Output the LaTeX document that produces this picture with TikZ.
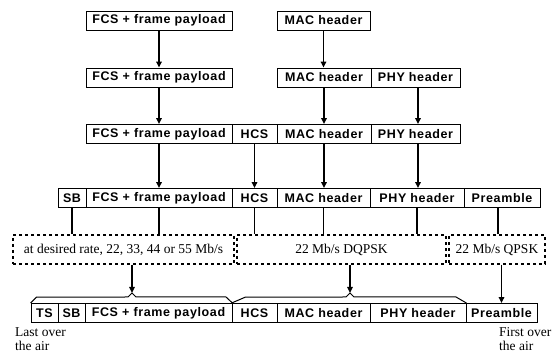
\documentclass[tikz,border=0pt]{standalone}
\usepackage{fontspec}
\setmainfont{Liberation Serif}
\newfontfamily\boxfont[LetterSpace=5]{Liberation Sans}
\usetikzlibrary{arrows.meta}
\begin{document}
\begin{tikzpicture}[x=1pt,y=-1pt,
  cell/.style={draw,line width=0.9pt,inner sep=0pt,minimum height=19pt,
    font=\boxfont\bfseries\fontsize{12.5}{14}\selectfont},
  dbox/.style={draw,dashed,dash pattern=on 3pt off 3pt,line width=1.3pt,inner sep=0pt,minimum height=29pt,
    font=\fontsize{13.5}{15}\selectfont},
  arr/.style={line width=1.5pt,-{Triangle[length=6pt,width=5.5pt]}},
  tie/.style={line width=1.4pt},
  brace/.style={line width=1pt},
  note/.style={align=left,anchor=north west,inner sep=0pt,font=\fontsize{13.5}{14.5}\selectfont}]
\useasboundingbox (0,0) rectangle (558,358);
% row 1
\node[cell,minimum width=146pt] (f1) at (159,20.5) {FCS + frame payload};
\node[cell,minimum width=93pt] (m1) at (323.5,20.5) {MAC header};
% row 2
\node[cell,minimum width=146pt] (f2) at (159,77.5) {FCS + frame payload};
\node[cell,minimum width=94pt] (m2) at (324,77.5) {MAC header};
\node[cell,minimum width=89pt] (p2) at (415.5,77.5) {PHY header};
% row 3
\node[cell,minimum width=146pt] (f3) at (159,134) {FCS + frame payload};
\node[cell,minimum width=45pt] (h3) at (254.5,134) {HCS};
\node[cell,minimum width=94pt] (m3) at (324,134) {MAC header};
\node[cell,minimum width=89pt] (p3) at (415.5,134) {PHY header};
% row 4
\node[cell,minimum width=28pt] (s4) at (72,198) {SB};
\node[cell,minimum width=146pt] (f4) at (159,198) {FCS + frame payload};
\node[cell,minimum width=45pt] (h4) at (254.5,198) {HCS};
\node[cell,minimum width=93pt] (m4) at (323.5,198) {MAC header};
\node[cell,minimum width=94pt] (p4) at (417,198) {PHY header};
\node[cell,minimum width=76pt] (r4) at (502,198) {Preamble};
% dashed row
\node[dbox,minimum width=221pt] (d1) at (123.5,249.5) {at desired rate, 22, 33, 44 or 55 Mb/s};
\node[dbox,minimum width=209pt] (d2) at (341.5,249.5) {22 Mb/s DQPSK};
\node[dbox,minimum width=96pt] (d3) at (497,249.5) {22 Mb/s QPSK};
% row 6
\node[cell,minimum width=27pt] (t6) at (44.5,313) {TS};
\node[cell,minimum width=27pt] (s6) at (71.5,313) {SB};
\node[cell,minimum width=147pt] (f6) at (158.5,313) {FCS + frame payload};
\node[cell,minimum width=45pt] (h6) at (254.5,313) {HCS};
\node[cell,minimum width=93pt] (m6) at (323.5,313) {MAC header};
\node[cell,minimum width=96pt] (p6) at (418,313) {PHY header};
\node[cell,minimum width=71pt] (r6) at (501.5,313) {Preamble};
% notes
\node[note] (last) at (15,327) {Last over\\the air};
\node[note] (first) at (499,327) {First over\\the air};
% arrows row1->2
\draw[arr] (f1.south) -- (f2.north);
\draw[arr] (m1.south) -- (m1.south |- m2.north);
% row2->3
\draw[arr] (f2.south) -- (f3.north);
\draw[arr] (m2.south) -- (m2.south |- m3.north);
\draw[arr] ([xshift=2.5pt]p2.south) -- ([xshift=2.5pt]p2.south |- p3.north);
% row3->4
\draw[arr] (f3.south) -- (f4.north);
\draw[arr] (h3.south) -- (h4.north);
\draw[arr] (m3.south) -- (m3.south |- m4.north);
\draw[arr] ([xshift=2.5pt]p3.south) -- ([xshift=2.5pt]p3.south |- p4.north);
% row4 -> dashed
\draw[tie] (s4.south) -- (s4.south |- d1.north);
\draw[tie] (f4.south) -- (f4.south |- d1.north);
\draw[tie] (h4.south) -- (h4.south |- d2.north);
\draw[tie] (m4.south) -- (m4.south |- d2.north);
\draw[tie] (p4.south) -- (p4.south |- d2.north);
\draw[tie] ([xshift=-4pt]r4.south) -- ([xshift=-4pt]r4.south |- d3.north);
% braces
\coordinate (b1) at (132,293);
\coordinate (b2) at (350,293);
\draw[brace] (t6.north west) -- ++(6,-6) -- (128,297) -- (b1) -- (136,297) -- (226,297) -- (f6.north east);
\draw[brace] (h6.north west) -- ++(14,-6) -- (346,297) -- (b2) -- (354,297) -- (456,297) -- (p6.north east);
% dashed -> row 6
\draw[arr] (b1 |- d1.south) -- (b1);
\draw[arr] (b2 |- d2.south) -- (b2);
\draw[arr] (r6.north |- d3.south) -- (r6.north);
\end{tikzpicture}
\end{document}
